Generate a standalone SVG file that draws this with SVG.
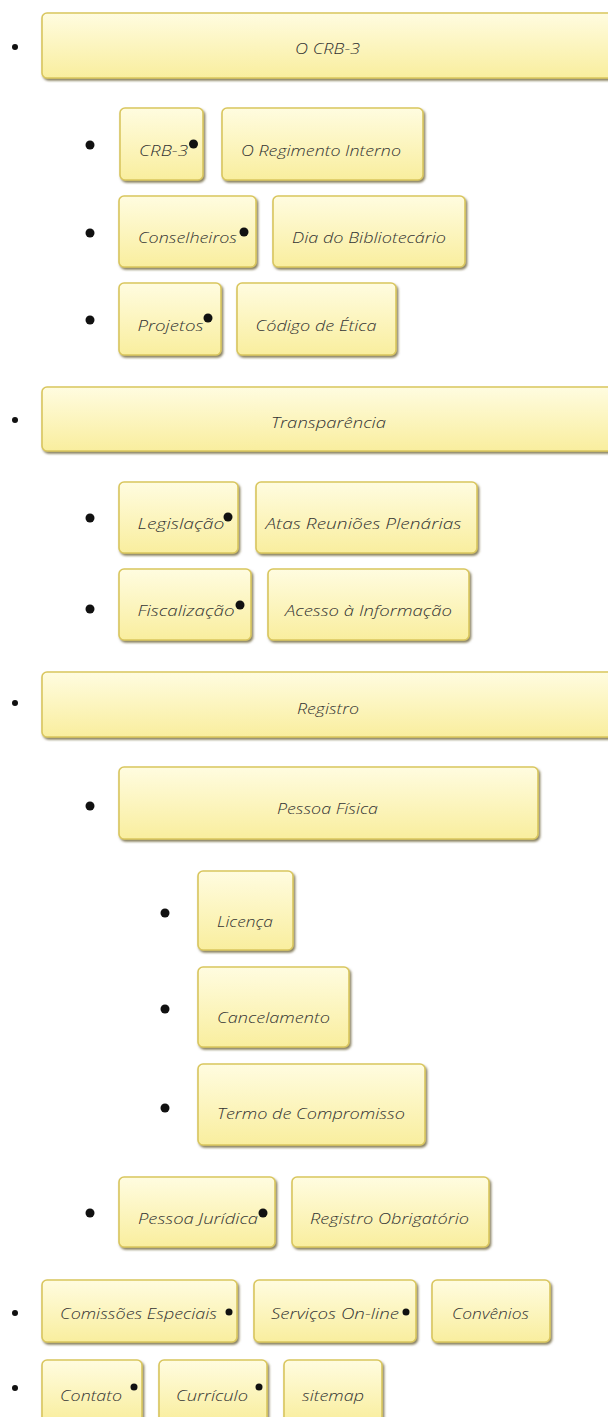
<svg xmlns="http://www.w3.org/2000/svg" width="608" height="1417" viewBox="0 0 608 1417">
<defs>
<linearGradient id="g" x1="0" y1="0" x2="0" y2="1">
<stop offset="0" stop-color="#fffce0"/>
<stop offset="1" stop-color="#f9ee9e"/>
</linearGradient>
<filter id="sh" x="-10%" y="-20%" width="120%" height="150%">
<feDropShadow dx="1.5" dy="2" stdDeviation="1" flood-color="#5e5428" flood-opacity="0.75"/>
</filter>
<style>
.b{fill:url(#g);stroke:#d9c65e;stroke-width:1.6;filter:url(#sh)}
.t{font-family:"Open Sans","DejaVu Sans",sans-serif;font-style:italic;font-weight:300;font-size:15px;fill:#333;text-anchor:middle;dominant-baseline:central}
.d{fill:#111}
</style>
</defs>
<rect width="608" height="1417" fill="#ffffff"/>
<g id="connectors"/>
<g id="bullets" class="d">
<circle cx="15" cy="47" r="3"/>
<circle cx="15" cy="420" r="3"/>
<circle cx="15" cy="703" r="3"/>
<circle cx="15" cy="1313" r="3"/>
<circle cx="15" cy="1388" r="3"/>
<circle cx="90" cy="145" r="4.5"/>
<circle cx="90" cy="233" r="4.5"/>
<circle cx="90" cy="320" r="4.5"/>
<circle cx="90" cy="518" r="4.5"/>
<circle cx="90" cy="609" r="4.5"/>
<circle cx="90" cy="806" r="4.5"/>
<circle cx="90" cy="1213" r="4.5"/>
<circle cx="165" cy="913" r="4.5"/>
<circle cx="165" cy="1009" r="4.5"/>
<circle cx="165" cy="1108" r="4.5"/>
</g>
<g id="n-ocrb3"><rect class="b" x="42" y="13" width="572" height="65" rx="5"/><text class="t" x="327.5" y="48" textLength="65" lengthAdjust="spacingAndGlyphs">O CRB-3</text></g>
<g id="n-crb3"><rect class="b" x="120" y="108" width="83" height="72" rx="5"/><text class="t" x="163.5" y="150" textLength="49" lengthAdjust="spacingAndGlyphs">CRB-3</text></g>
<g id="n-regimento"><rect class="b" x="222" y="108" width="201" height="72" rx="5"/><text class="t" x="321" y="150" textLength="160" lengthAdjust="spacingAndGlyphs">O Regimento Interno</text></g>
<g id="n-conselheiros"><rect class="b" x="119" y="196" width="137" height="71" rx="5"/><text class="t" x="187.5" y="237" textLength="99" lengthAdjust="spacingAndGlyphs">Conselheiros</text></g>
<g id="n-dia"><rect class="b" x="273" y="196" width="192" height="71" rx="5"/><text class="t" x="369" y="237" textLength="154" lengthAdjust="spacingAndGlyphs">Dia do Bibliotecário</text></g>
<g id="n-projetos"><rect class="b" x="119" y="283" width="102" height="72" rx="5"/><text class="t" x="170.5" y="325" textLength="66" lengthAdjust="spacingAndGlyphs">Projetos</text></g>
<g id="n-codigo"><rect class="b" x="237" y="283" width="159" height="72" rx="5"/><text class="t" x="316" y="325" textLength="121" lengthAdjust="spacingAndGlyphs">Código de Ética</text></g>
<g id="n-transparencia"><rect class="b" x="42" y="387" width="572" height="64" rx="5"/><text class="t" x="328.5" y="422" textLength="115" lengthAdjust="spacingAndGlyphs">Transparência</text></g>
<g id="n-legislacao"><rect class="b" x="119" y="482" width="119" height="71" rx="5"/><text class="t" x="181" y="523" textLength="87" lengthAdjust="spacingAndGlyphs">Legislação</text></g>
<g id="n-atas"><rect class="b" x="256" y="482" width="221" height="71" rx="5"/><text class="t" x="363.5" y="523" textLength="196" lengthAdjust="spacingAndGlyphs">Atas Reuniões Plenárias</text></g>
<g id="n-fiscalizacao"><rect class="b" x="119" y="569" width="132" height="71" rx="5"/><text class="t" x="186" y="610" textLength="97" lengthAdjust="spacingAndGlyphs">Fiscalização</text></g>
<g id="n-acesso"><rect class="b" x="268" y="569" width="201" height="71" rx="5"/><text class="t" x="368.5" y="610" textLength="167" lengthAdjust="spacingAndGlyphs">Acesso à Informação</text></g>
<g id="n-registro"><rect class="b" x="42" y="672" width="572" height="65" rx="5"/><text class="t" x="328" y="708" textLength="62" lengthAdjust="spacingAndGlyphs">Registro</text></g>
<g id="n-pf"><rect class="b" x="119" y="767" width="419" height="72" rx="5"/><text class="t" x="327.5" y="808" textLength="101" lengthAdjust="spacingAndGlyphs">Pessoa Física</text></g>
<g id="n-licenca"><rect class="b" x="198" y="871" width="95" height="79" rx="5"/><text class="t" x="245" y="921" textLength="56" lengthAdjust="spacingAndGlyphs">Licença</text></g>
<g id="n-cancelamento"><rect class="b" x="198" y="967" width="151" height="80" rx="5"/><text class="t" x="273.5" y="1017" textLength="113" lengthAdjust="spacingAndGlyphs">Cancelamento</text></g>
<g id="n-termo"><rect class="b" x="198" y="1064" width="227" height="81" rx="5"/><text class="t" x="311" y="1113" textLength="188" lengthAdjust="spacingAndGlyphs">Termo de Compromisso</text></g>
<g id="n-pj"><rect class="b" x="119" y="1177" width="156" height="70" rx="5"/><text class="t" x="198" y="1218" textLength="120" lengthAdjust="spacingAndGlyphs">Pessoa Jurídica</text></g>
<g id="n-ro"><rect class="b" x="292" y="1177" width="197" height="70" rx="5"/><text class="t" x="389.5" y="1218" textLength="159" lengthAdjust="spacingAndGlyphs">Registro Obrigatório</text></g>
<g id="n-comissoes"><rect class="b" x="42" y="1280" width="195" height="62" rx="5"/><text class="t" x="138.5" y="1313" textLength="157" lengthAdjust="spacingAndGlyphs">Comissões Especiais</text></g>
<g id="n-servicos"><rect class="b" x="254" y="1280" width="162" height="62" rx="5"/><text class="t" x="335" y="1313" textLength="128" lengthAdjust="spacingAndGlyphs">Serviços On-line</text></g>
<g id="n-convenios"><rect class="b" x="432" y="1280" width="118" height="62" rx="5"/><text class="t" x="490.5" y="1313" textLength="77" lengthAdjust="spacingAndGlyphs">Convênios</text></g>
<g id="n-contato"><rect class="b" x="42" y="1360" width="100" height="62" rx="5"/><text class="t" x="91" y="1395" textLength="62" lengthAdjust="spacingAndGlyphs">Contato</text></g>
<g id="n-curriculo"><rect class="b" x="159" y="1360" width="108" height="62" rx="5"/><text class="t" x="212" y="1395" textLength="72" lengthAdjust="spacingAndGlyphs">Currículo</text></g>
<g id="n-sitemap"><rect class="b" x="284" y="1360" width="98" height="62" rx="5"/><text class="t" x="333" y="1395" textLength="62" lengthAdjust="spacingAndGlyphs">sitemap</text></g>
<g id="inline-bullets" class="d">
<circle cx="193.5" cy="144" r="4.5"/>
<circle cx="244" cy="232" r="4.5"/>
<circle cx="208" cy="318" r="4.5"/>
<circle cx="228" cy="517" r="4.5"/>
<circle cx="240" cy="605" r="4.5"/>
<circle cx="263" cy="1213" r="4.5"/>
<circle cx="229" cy="1312" r="3.5"/>
<circle cx="406" cy="1312" r="3.5"/>
<circle cx="134" cy="1387" r="3.5"/>
<circle cx="259" cy="1387" r="3.5"/>
</g>
</svg>
